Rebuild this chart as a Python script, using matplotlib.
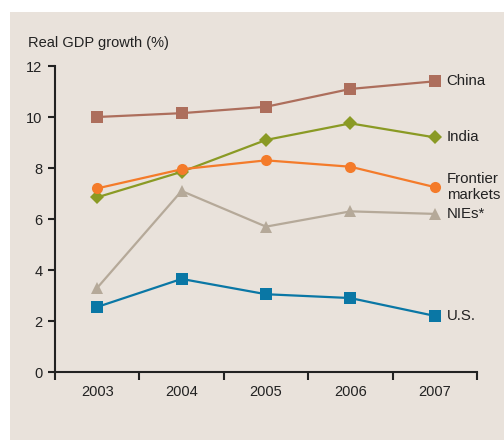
import numpy as np
import matplotlib.pyplot as plt
from matplotlib.patches import Rectangle

plt.rcParams['font.family'] = ['Liberation Sans', 'DejaVu Sans']

years = ['2003', '2004', '2005', '2006', '2007']
china = [10.0, 10.15, 10.4, 11.1, 11.4]
india = [6.85, 7.85, 9.1, 9.75, 9.2]
frontier = [7.2, 7.95, 8.3, 8.05, 7.25]
nies = [3.3, 7.1, 5.7, 6.3, 6.2]
us = [2.55, 3.65, 3.05, 2.9, 2.2]

series = [
    # name, values, color, marker, size
    ('NIEs*', nies, '#b5a999', '^', 9),
    ('India', india, '#8a9a24', 'D', 7),
    ('Frontier\nmarkets', frontier, '#f47b2a', 'o', 8),
    ('China', china, '#ad6e5c', 's', 8.5),
    ('U.S.', us, '#0a77a5', 's', 8.5),
]

bg = '#e9e2db'
fig = plt.figure(figsize=(5.04, 4.4), dpi=100)
fig.patch.set_facecolor('white')
fig.patches.append(Rectangle((10 / 504, 0), 1, 1 - 12 / 440,
                             transform=fig.transFigure, facecolor=bg,
                             edgecolor='none', zorder=-10))

ax = fig.add_axes([55 / 504, 1 - 372 / 440, (477 - 55) / 504, (372 - 66) / 440])
ax.set_facecolor('none')

x = np.arange(len(years))
for name, vals, col, mk, ms in series:
    ax.plot(x, vals, color=col, lw=1.6, marker=mk, markersize=ms,
            markeredgewidth=0, clip_on=False)
    ax.annotate(name, (x[-1], vals[-1]), xytext=(8.5, 0),
                textcoords='offset points', va='center', ha='left',
                fontsize=10.8, color='#222222', linespacing=1.15,
                annotation_clip=False)

ax.set_xlim(-0.5, 4.5)
ax.set_ylim(0, 12)
ax.set_yticks(range(0, 13, 2))
ax.set_xticks(x)
ax.set_xticklabels(years)
ax.set_xticks(np.arange(-0.5, 5, 1), minor=True)
ax.tick_params(axis='x', which='major', length=0, pad=9, labelsize=10.5,
               colors='#222222')
ax.tick_params(axis='x', which='minor', length=6, width=1.5, direction='out',
               color='#222222')
ax.tick_params(axis='y', length=5, width=1.5, pad=4, labelsize=10.5,
               colors='#222222')
for side in ['top', 'right']:
    ax.spines[side].set_visible(False)
for side in ['left', 'bottom']:
    ax.spines[side].set_linewidth(1.5)
    ax.spines[side].set_color('#222222')

fig.text(28 / 504, 1 - 43 / 440, 'Real GDP growth (%)', fontsize=10.5,
         va='center', ha='left', color='#222222')

plt.savefig('out.png', dpi=100, facecolor=fig.get_facecolor())
